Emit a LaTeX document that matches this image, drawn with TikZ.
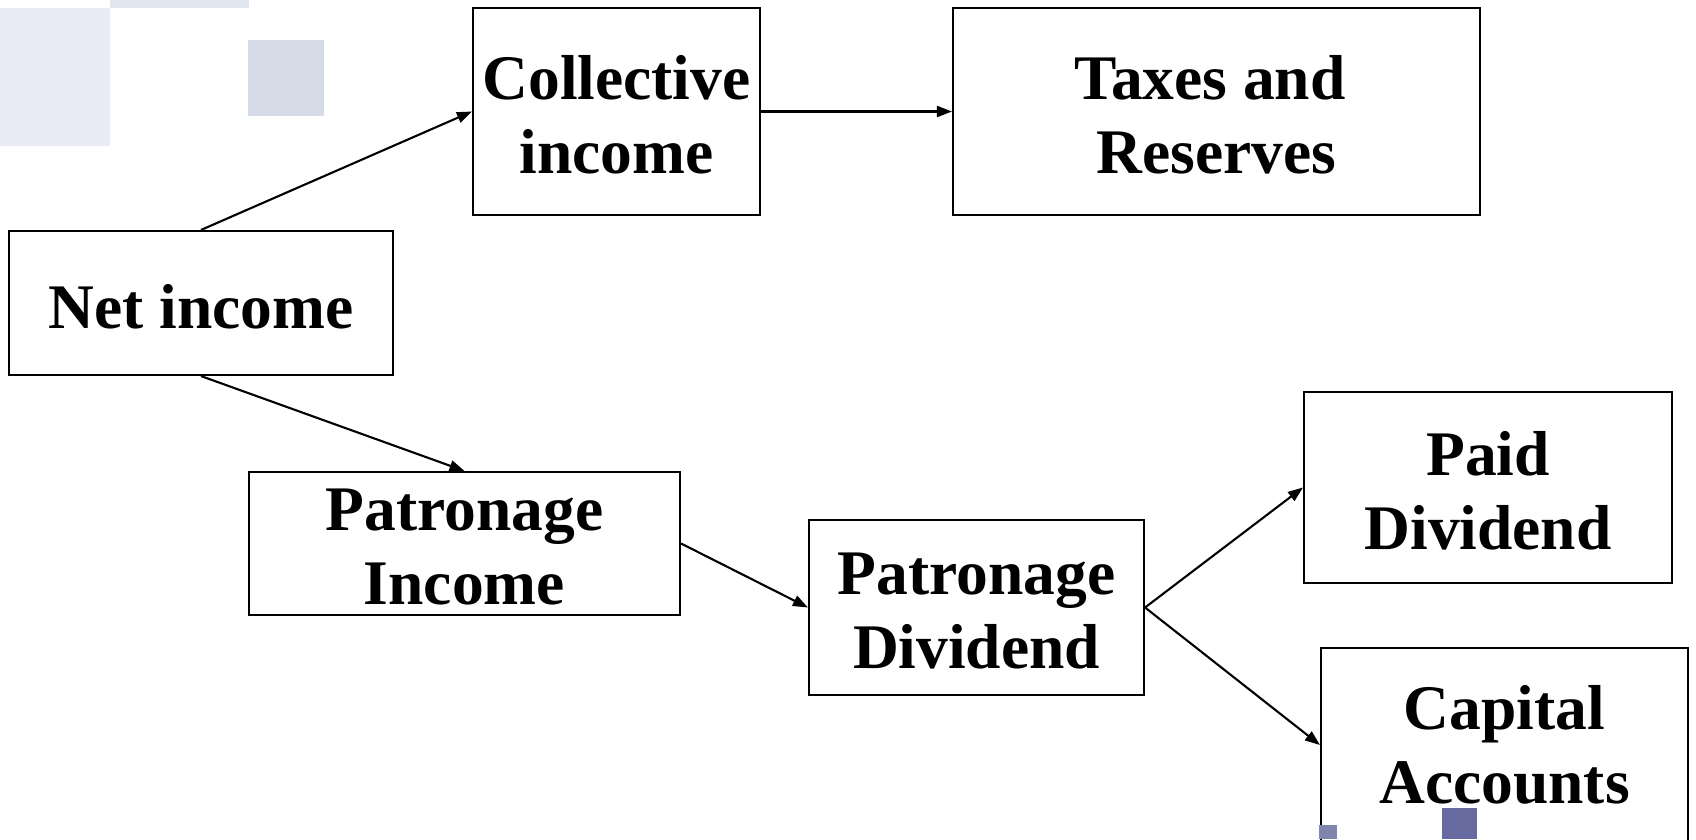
\documentclass[tikz,border=0pt]{standalone}
\usepackage{fontspec}
\setmainfont{Liberation Serif}
\usetikzlibrary{arrows.meta}
\definecolor{bgA}{HTML}{E9ECF4}
\definecolor{bgB}{HTML}{E3E7F0}
\definecolor{bgC}{HTML}{D5DBE7}
\definecolor{bgD}{HTML}{7E84AE}
\definecolor{bgE}{HTML}{666A9E}
\begin{document}
\begin{tikzpicture}[x=1pt,y=-1pt,
  box/.style={draw=black, line width=2.1pt, inner sep=0pt},
  lbl/.style={inner sep=0pt, align=center, yshift=-3.5pt,
    font=\fontsize{63.5}{73.5}\selectfont\bfseries},
  flow/.style={draw=black, line width=2.1pt, -{Triangle[length=15pt,width=11pt]}}]
\useasboundingbox (0,0) rectangle (1696,839);
% background squares
\fill[bgA] (0,8) rectangle (110,146);
\fill[bgB] (110,0) rectangle (249,8);
\fill[bgC] (248,40) rectangle (324,116);
% boxes
\node[box, minimum width=287pt, minimum height=207pt] (coll) at (616.5,111.5) {};
\node[box, minimum width=527pt, minimum height=207pt] (tax) at (1216.5,111.5) {};
\node[box, minimum width=384pt, minimum height=144pt] (net) at (201,303) {};
\node[box, minimum width=431pt, minimum height=143pt] (pinc) at (464.5,543.5) {};
\node[box, minimum width=335pt, minimum height=175pt] (pdiv) at (976.5,607.5) {};
\node[box, minimum width=368pt, minimum height=191pt] (paid) at (1488,487.5) {};
\node[box, minimum width=367pt, minimum height=194pt] (cap) at (1504.5,745) {};
% texts
\node[lbl] (colltext) at (coll.center) {Collective\\income};
\node[lbl] (taxtext) at (tax.center) {Taxes and\hspace*{13pt}\\Reserves};
\node[lbl] (nettext) at (net.center) {Net income};
\node[lbl] (pinctext) at (pinc.center) {Patronage\\Income};
\node[lbl] (pdivtext) at (pdiv.center) {Patronage\\Dividend};
\node[lbl] (paidtext) at (paid.center) {Paid\\Dividend};
\node[lbl, yshift=3.5pt] (captext) at (cap.center) {Capital\\Accounts};
% bottom squares
\fill[bgD] (1319,825) rectangle (1337,839);
\fill[bgE] (1442,808) rectangle (1477,839);
% connectors
\draw[flow] (net.north) -- (coll.west);
\draw[flow] (coll.east) -- (tax.west);
\draw[flow] (net.south) -- (pinc.north);
\draw[flow] (pinc.east) -- (pdiv.west);
\draw[flow] (pdiv.east) -- (paid.west);
\draw[flow] (pdiv.east) -- (cap.west);
\end{tikzpicture}
\end{document}
